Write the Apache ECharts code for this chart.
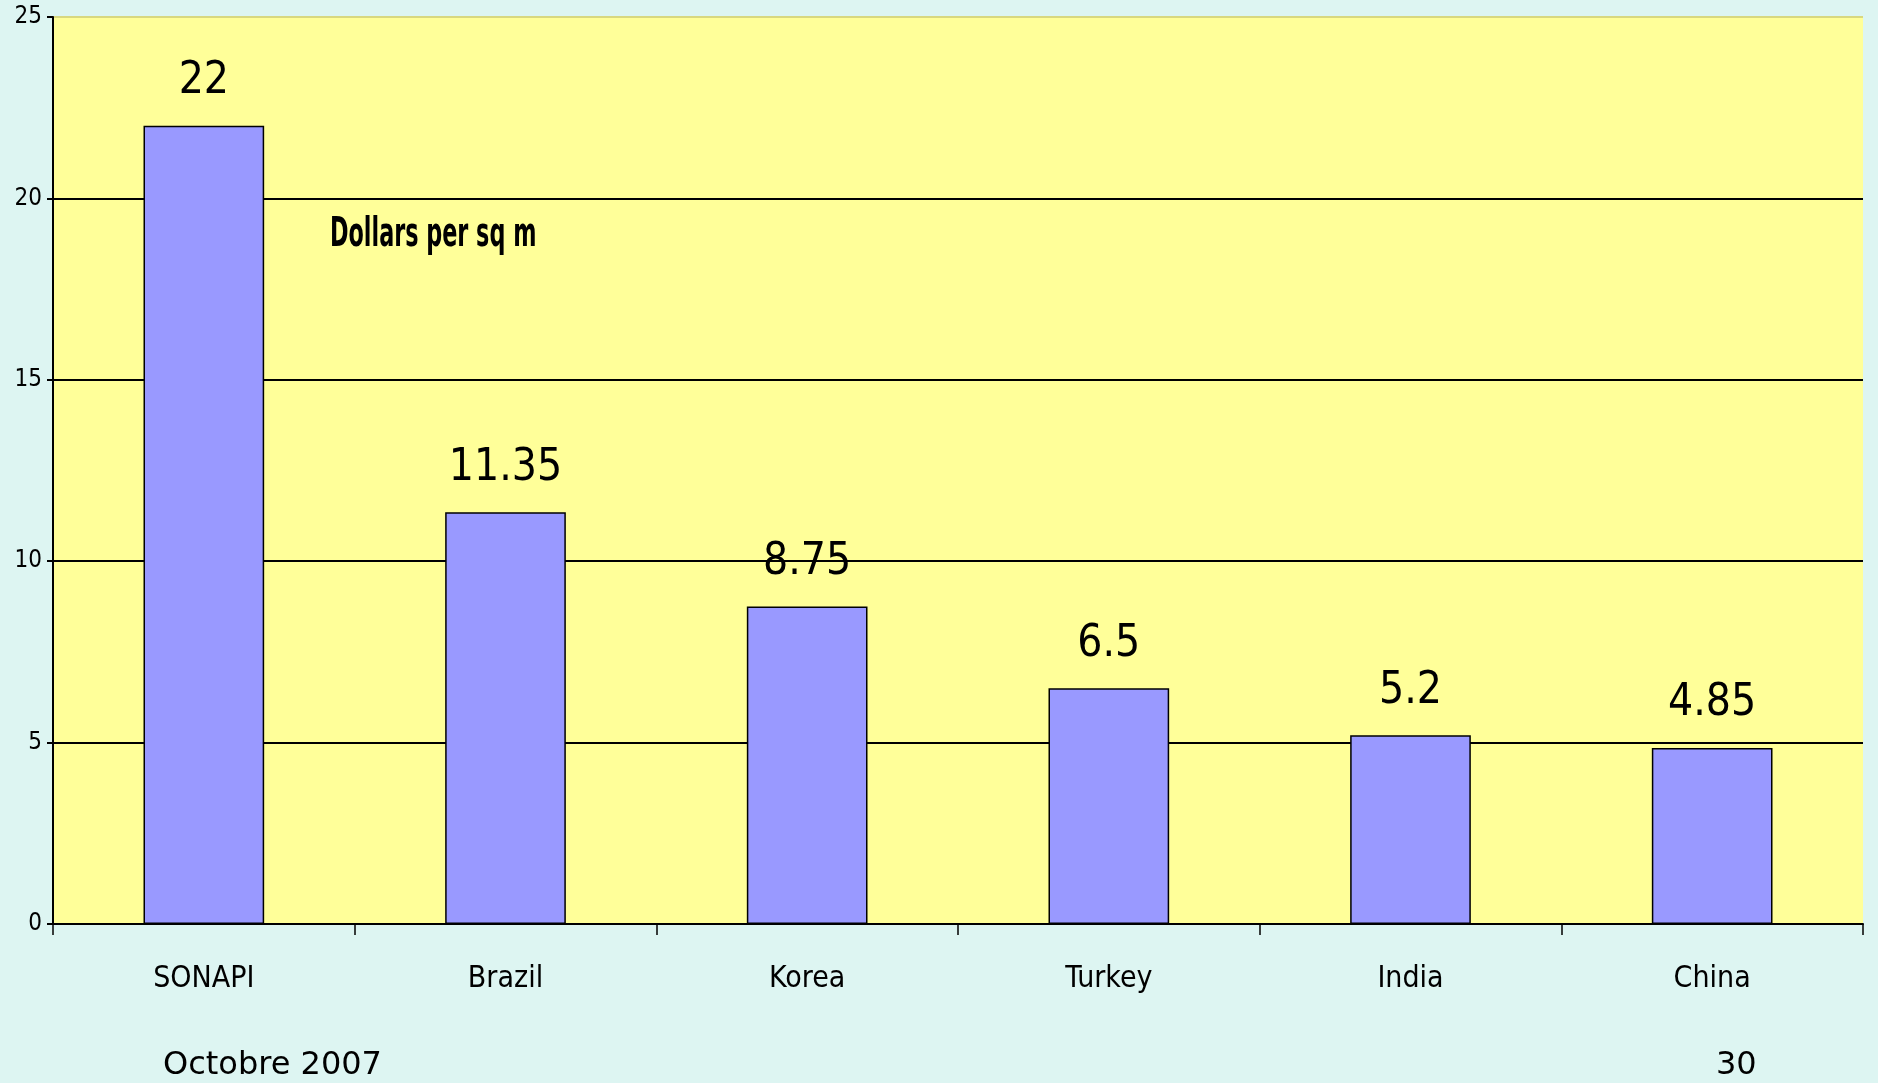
<!DOCTYPE html>
<html>
<head>
<meta charset="utf-8">
<script src="https://cdn.jsdelivr.net/npm/echarts@6/dist/echarts.min.js"></script>
<style>
  html, body { margin: 0; padding: 0; background: #ddf5f2; }
  #main { width: 1878px; height: 1083px; }
</style>
</head>
<body>
<div id="main"></div>
<script>
// chart data
const categories = ["SONAPI", "Brazil", "Korea", "Turkey", "India", "China"];
const prices = [22, 11.35, 8.75, 6.5, 5.2, 4.85];

const narrow = "'Liberation Sans Narrow', 'DejaVu Sans Condensed', 'Arial Narrow', sans-serif";

const chart = echarts.init(document.getElementById("main"));

const option = {
  backgroundColor: "#ddf5f2",
  animation: false,
  grid: {
    left: 53,
    right: 15,
    top: 17,
    bottom: 159,
    show: true,
    backgroundColor: "#ffff99",
    borderWidth: 0,
  },
  xAxis: {
    type: "category",
    data: categories,
    axisLine: { lineStyle: { color: "#000", width: 2 } },
    axisTick: { show: true, length: 11, lineStyle: { color: "#000", width: 1.5 } },
    axisLabel: {
      color: "#000",
      fontFamily: narrow,
      fontSize: 30,
      margin: 40,
    },
  },
  yAxis: {
    type: "value",
    min: 0,
    max: 25,
    interval: 5,
    axisLine: { show: true, lineStyle: { color: "#000", width: 2 } },
    axisTick: { show: true, length: 6, lineStyle: { color: "#000", width: 2 } },
    axisLabel: {
      color: "#000",
      fontFamily: narrow,
      fontSize: 24,
      margin: 11,
    },
    splitLine: {
      show: true,
      lineStyle: {
        color: ["#000", "#000", "#000", "#000", "#000", "#d8d880"],
        width: 2,
      },
    },
  },
  graphic: [
    {
      type: "text",
      x: 330,
      y: 216,
      scaleX: 0.62,
      style: {
        text: "Dollars per sq m",
        fill: "#000",
        font: "bold 40px " + narrow,
      },
    },
    {
      type: "text",
      left: 163,
      top: 1050,
      style: {
        text: "Octobre 2007",
        fill: "#000",
        font: "32px 'DejaVu Sans', Verdana, sans-serif",
      },
    },
    {
      type: "text",
      left: 1716,
      top: 1050,
      style: {
        text: "30",
        fill: "#000",
        font: "32px 'DejaVu Sans', Verdana, sans-serif",
      },
    },
  ],
  series: [
    {
      type: "bar",
      data: prices,
      barCategoryGap: "60%",
      itemStyle: {
        color: "#9999ff",
        borderColor: "#000",
        borderWidth: 1.5,
      },
      label: {
        show: true,
        position: "top",
        distance: 22,
        color: "#000",
        fontFamily: narrow,
        fontSize: 44,
      },
    },
  ],
};

chart.setOption(option);
</script>
</body>
</html>
